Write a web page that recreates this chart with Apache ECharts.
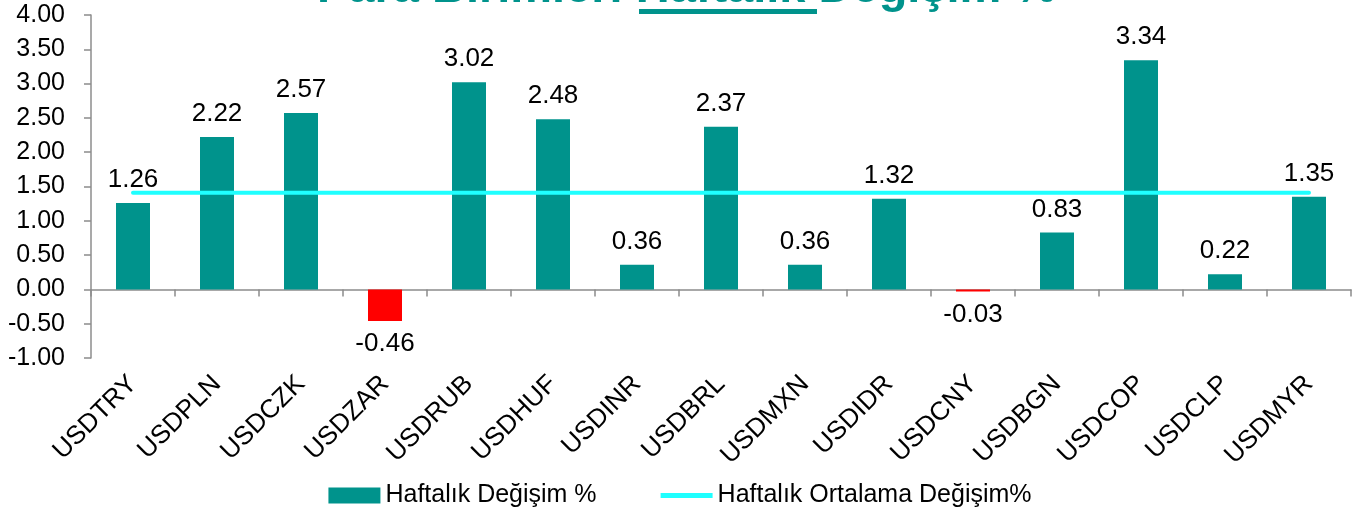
<!DOCTYPE html>
<html>
<head>
<meta charset="utf-8">
<script src="https://cdn.jsdelivr.net/npm/echarts@6/dist/echarts.min.js"></script>
<style>
  html, body { margin: 0; padding: 0; background: #fff; }
  #chart { width: 1360px; height: 517px; }
</style>
</head>
<body>
<div id="chart"></div>
<script>
var categories = ['USDTRY', 'USDPLN', 'USDCZK', 'USDZAR', 'USDRUB', 'USDHUF', 'USDINR', 'USDBRL',
    'USDMXN', 'USDIDR', 'USDCNY', 'USDBGN', 'USDCOP', 'USDCLP', 'USDMYR'];
var weeklyChange = [1.26, 2.22, 2.57, -0.46, 3.02, 2.48, 0.36, 2.37, 0.36, 1.32, -0.03, 0.83, 3.34, 0.22, 1.35];
var weeklyAverage = [1.41, 1.41, 1.41, 1.41, 1.41, 1.41, 1.41, 1.41, 1.41, 1.41, 1.41, 1.41, 1.41, 1.41, 1.41];

var FONT = 'Liberation Sans, Arial, sans-serif';
var TEAL = '#00938C';
var CYAN = '#1FFFFF';

var chart = echarts.init(document.getElementById('chart'));

var option = {
    animation: false,
    textStyle: { fontFamily: FONT },
    title: {
        text: 'Para Birimleri Haftalık Değişim %',
        left: 317,
        top: -34,
        padding: 0,
        textStyle: { color: TEAL, fontSize: 47, fontWeight: 'bold', fontFamily: FONT }
    },
    // underline under "Haftalık"
    graphic: [{
        type: 'rect',
        shape: { x: 639, y: 9, width: 178, height: 5 },
        style: { fill: TEAL }
    }],
    legend: {
        bottom: 4,
        left: 'center',
        itemGap: 64,
        itemWidth: 52,
        itemHeight: 16,
        textStyle: { fontSize: 25, color: '#000', fontFamily: FONT },
        data: [
            { name: 'Haftalık Değişim %', icon: 'rect' },
            // tiny flat path so only the line part of the legend icon is seen
            { name: 'Haftalık Ortalama Değişim%', icon: 'path://M0,0H10V1H0Z' }
        ]
    },
    grid: { left: 91, right: 9, top: 15, bottom: 159 },
    xAxis: [{
        type: 'category',
        data: categories,
        position: 'bottom',
        axisLine: { show: false, onZero: false },
        axisTick: { show: false },
        axisLabel: { rotate: 45, fontSize: 26, color: '#000', margin: 22, interval: 0 }
    }, {
        type: 'category',
        data: categories,
        position: 'bottom',
        axisLine: { show: true, onZero: true, lineStyle: { color: '#8c8c8c', width: 1.5 } },
        axisTick: { show: true, length: 7, lineStyle: { color: '#8c8c8c', width: 1.5 } },
        axisLabel: { show: false }
    }],
    yAxis: {
        type: 'value',
        min: -1,
        max: 4,
        interval: 0.5,
        splitLine: { show: false },
        axisLine: { show: true, lineStyle: { color: '#8c8c8c', width: 1.5 } },
        axisTick: { show: true, length: 7, lineStyle: { color: '#8c8c8c', width: 1.5 } },
        axisLabel: {
            fontSize: 25, color: '#000', margin: 26,
            formatter: function (v) { return v.toFixed(2); }
        }
    },
    series: [{
        name: 'Haftalık Değişim %',
        type: 'bar',
        barWidth: 34,
        itemStyle: { color: TEAL },
        label: {
            show: true, fontSize: 26, color: '#000', distance: 10,
            formatter: function (p) { return p.value.toFixed(2); }
        },
        data: weeklyChange.map(function (v) {
            return {
                value: v,
                itemStyle: { color: v < 0 ? '#FF0000' : TEAL },
                label: { position: v < 0 ? 'bottom' : 'top' }
            };
        })
    }, {
        name: 'Haftalık Ortalama Değişim%',
        type: 'line',
        symbol: 'none',
        z: 5,
        lineStyle: { color: CYAN, width: 4, cap: 'round' },
        itemStyle: { color: CYAN },
        data: weeklyAverage
    }]
};

chart.setOption(option);
</script>
</body>
</html>
